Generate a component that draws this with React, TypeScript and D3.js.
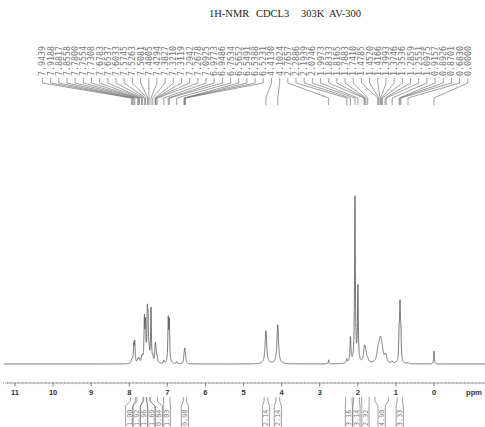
import React from "react";
import * as d3 from "d3";

// ---------- data ----------
const titleWords = ["1H-NMR", "CDCL3", "303K", "AV-300"];

// picked peak list (ppm), printed on top
const pickedShifts = [
  7.9439, 7.9188, 7.8817, 7.8558, 7.78, 7.7554, 7.7308, 7.6783, 7.6537, 7.6033,
  7.5745, 7.5263, 7.5081, 7.4805, 7.4294, 7.3827, 7.321, 7.3119, 7.2942, 7.2678,
  7.0925, 6.9773, 6.9486, 6.7534, 6.5652, 6.5491, 6.5388, 6.5231, 4.413, 4.1024,
  2.7657, 2.2886, 2.1939, 2.0746, 1.9973, 1.8333, 1.8165, 1.7883, 1.741, 1.4785,
  1.452, 1.4166, 1.3993, 1.3746, 1.3536, 1.2859, 1.2551, 1.0975, 0.9157, 0.8926,
  0.8701, 0.683, 0.0,
];

// spectral lines: shift (ppm), intensity (a.u.), half width (ppm)
const lineShift = [
  7.9439, 7.9188, 7.8817, 7.8558, 7.78, 7.7554, 7.7308, 7.6783, 7.6537, 7.6033,
  7.5745, 7.5263, 7.5081, 7.4805, 7.4294, 7.3827, 7.321, 7.3119, 7.2942, 7.2678,
  7.0925, 6.9773, 6.9486, 6.7534, 6.5652, 6.5491, 6.5388, 6.5231, 4.413, 4.1024,
  2.7657, 2.2886, 2.1939, 2.0746, 1.9973, 1.8333, 1.8165, 1.7883, 1.741, 1.4785,
  1.452, 1.4166, 1.3993, 1.3746, 1.3536, 1.2859, 1.2551, 1.0975, 0.9157, 0.8926,
  0.8701, 0.683, 0.0,
];
const lineIntensity = [
  3, 3, 18, 20, 3, 4, 3, 5, 5, 42,
  36, 44, 36, 8, 54, 5, 10, 11, 8, 6,
  3, 42, 40, 2, 5, 8, 8, 5, 33, 39,
  4, 4, 25, 166, 75, 8, 9, 7, 3, 6,
  8, 10, 9, 7, 5, 5, 6, 2, 28, 52,
  28, 1, 13,
];
const lineWidth = [
  0.012, 0.012, 0.012, 0.012, 0.012, 0.012, 0.012, 0.012, 0.012, 0.012,
  0.012, 0.012, 0.012, 0.012, 0.012, 0.012, 0.012, 0.012, 0.012, 0.012,
  0.012, 0.012, 0.012, 0.012, 0.012, 0.012, 0.012, 0.012, 0.025, 0.025,
  0.01, 0.015, 0.015, 0.012, 0.012, 0.025, 0.025, 0.025, 0.025, 0.035,
  0.035, 0.035, 0.035, 0.035, 0.035, 0.02, 0.02, 0.015, 0.012, 0.012,
  0.012, 0.015, 0.01,
];

// integrals
const integralFrom = [7.97, 7.8, 7.62, 7.54, 7.45, 7.1, 6.58, 4.46, 4.15, 2.32, 2.11, 1.9, 1.55, 0.97];
const integralTo = [7.84, 7.64, 7.55, 7.46, 7.26, 6.93, 6.5, 4.36, 4.05, 2.15, 1.96, 1.7, 1.2, 0.83];
const integralValue = ["1.00", "1.92", "1.96", "1.69", "0.84", "1.03", "0.98", "2.14", "2.14", "3.16", "3.14", "2.32", "4.90", "3.33"];

const axisTicks = [11, 10, 9, 8, 7, 6, 5, 4, 3, 2, 1, 0];

// ---------- layout ----------
const W = 485;
const H = 427;
const x = d3.scaleLinear().domain([11, 0]).range([15, 434]);
const y = d3.scaleLinear().domain([0, 168]).range([364, 196]);
const axisY = 383;

function intensityAt(d: number) {
  let s = 0;
  for (let i = 0; i < lineShift.length; i++) {
    const t = (d - lineShift[i]) / lineWidth[i];
    s += lineIntensity[i] / (1 + t * t);
  }
  return s;
}

const ppmGrid = d3.range(11.3, -1.4, -0.002);
const spectrum = ppmGrid.map((d) => [d, intensityAt(d)] as [number, number]);
const linePath = d3
  .line<[number, number]>()
  .x((d) => x(d[0]))
  .y((d) => y(d[1]))(spectrum) as string;

const labelX = d3.scaleLinear().domain([0, pickedShifts.length - 1]).range([42.4, 467.8]);

// integral label positions: centers, then spread to min spacing
function spreadLabels(centers: number[], gap: number) {
  const res = centers.slice();
  for (let iter = 0; iter < 200; iter++) {
    for (let i = 1; i < res.length; i++) {
      const d = res[i] - res[i - 1];
      if (d < gap) {
        const push = (gap - d) / 2;
        res[i] += push;
        res[i - 1] -= push;
      }
    }
  }
  return res;
}
const intCenters = integralFrom.map((f, i) => x((f + integralTo[i]) / 2));
const intLabelX = spreadLabels(intCenters, 7.4);

const minorTicks = d3.range(-1.3, 11.3, 0.1);

export default function App() {
  const grey = "#6a6a6a";
  return (
    <svg
      width={W}
      height={H}
      viewBox={`0 0 ${W} ${H}`}
      style={{ position: "absolute", left: 0, top: 0, background: "#fff" }}
    >
      <rect width={W} height={H} fill="#fff" />
      {/* title */}
      {titleWords.map((w, i) => (
        <text
          key={w}
          x={[209, 256, 301, 329][i]}
          y={17}
          fontFamily="Liberation Serif, Times New Roman, serif"
          fontSize={10.5}
          fill="#222"
        >
          {w}
        </text>
      ))}

      {/* peak labels and connectors */}
      {pickedShifts.map((s, i) => {
        const lx = labelX(i);
        const px = x(s);
        return (
          <g key={i}>
            <text
              transform={`translate(${lx + 3},76) rotate(-90)`}
              fontFamily="DejaVu Sans Mono, monospace"
              fontSize={8.3}
              fill="#777"
            >
              {s.toFixed(4)}
            </text>
            <path
              d={`M${lx},78 L${lx},83 L${px},98 L${px},105`}
              fill="none"
              stroke="#777"
              strokeWidth={0.7}
            />
          </g>
        );
      })}

      {/* spectrum */}
      <path d={linePath} fill="none" stroke="#555" strokeWidth={0.8} />

      {/* axis */}
      <line x1={5} x2={485} y1={axisY} y2={axisY} stroke="#888" strokeWidth={0.8} />
      {minorTicks.map((t, i) => (
        <line
          key={i}
          x1={x(t)}
          x2={x(t)}
          y1={axisY - 1.2}
          y2={axisY + 1.2}
          stroke="#999"
          strokeWidth={0.6}
        />
      ))}
      {axisTicks.map((t) => (
        <g key={t}>
          <line x1={x(t)} x2={x(t)} y1={axisY} y2={axisY + 3.5} stroke="#666" strokeWidth={0.8} />
          <text
            x={x(t)}
            y={395}
            textAnchor="middle"
            fontFamily="Liberation Sans, Arial, sans-serif"
            fontWeight="bold"
            fontSize={7.5}
            fill="#333"
          >
            {t}
          </text>
        </g>
      ))}
      <text
        x={474}
        y={395}
        textAnchor="middle"
        fontFamily="Liberation Sans, Arial, sans-serif"
        fontWeight="bold"
        fontSize={7.5}
        fill="#333"
      >
        ppm
      </text>

      {/* integrals */}
      {integralFrom.map((f, i) => {
        const x1 = x(f);
        const x2 = x(integralTo[i]);
        const lx = intLabelX[i];
        return (
          <g key={i}>
            <path
              d={`M${x1},397 L${x1},401 L${lx - 3.6},406 L${lx - 3.6},427`}
              fill="none"
              stroke="#777"
              strokeWidth={0.7}
            />
            <path
              d={`M${x2},397 L${x2},401 L${lx + 3.6},406 L${lx + 3.6},427`}
              fill="none"
              stroke="#777"
              strokeWidth={0.7}
            />
            <text
              transform={`translate(${lx + 2.4},426) rotate(-90)`}
              fontFamily="DejaVu Sans Mono, monospace"
              fontSize={6.8}
              fill="#777"
            >
              {integralValue[i]}
            </text>
          </g>
        );
      })}
    </svg>
  );
}
